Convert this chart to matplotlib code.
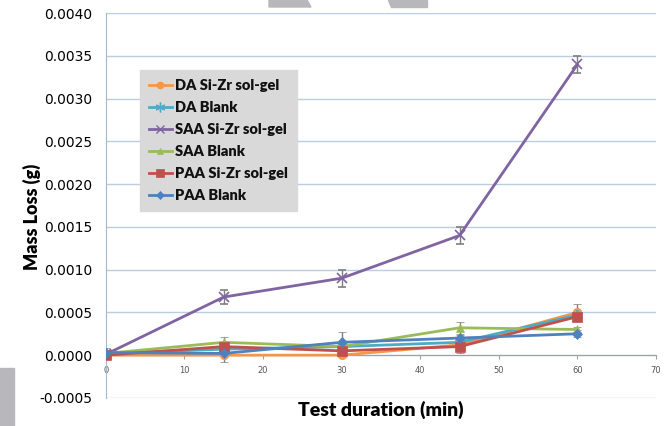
import matplotlib
matplotlib.use("Agg")
import matplotlib.pyplot as plt
from matplotlib.lines import Line2D
from matplotlib.patches import Polygon

# test duration (min)
minutes = [0, 15, 30, 45, 60]

series_names = ["DA Si-Zr sol-gel", "DA Blank", "SAA Si-Zr sol-gel",
                "SAA Blank", "PAA Si-Zr sol-gel", "PAA Blank"]

da_solgel = [0.0, 0.0, 0.0, 0.00012, 0.0005]
da_blank = [0.00002, 0.00007, 0.0001, 0.00015, 0.00047]
saa_solgel = [0.00001, 0.00068, 0.0009, 0.0014, 0.0034]
saa_blank = [0.00002, 0.00015, 0.0001, 0.00032, 0.0003]
paa_solgel = [0.0, 0.0001, 0.00005, 0.0001, 0.00045]
paa_blank = [0.00003, 0.00002, 0.00015, 0.0002, 0.00025]

da_solgel_err = [0.00003, 0.00008, 0.00002, 0.00003, 0.0001]
da_blank_err = [0.00003, 0.00003, 0.00003, 0.00005, 0.00004]
saa_solgel_err = [0.00003, 0.00008, 0.0001, 0.0001, 0.0001]
saa_blank_err = [0.00003, 0.00006, 0.00003, 0.00007, 0.00003]
paa_solgel_err = [0.00005, 0.00004, 0.00003, 0.00007, 0.00005]
paa_blank_err = [0.00005, 0.00003, 0.00012, 0.00004, 0.00004]

values = [da_solgel, da_blank, saa_solgel, saa_blank, paa_solgel, paa_blank]
errors = [da_solgel_err, da_blank_err, saa_solgel_err, saa_blank_err,
          paa_solgel_err, paa_blank_err]
colors = ["#F79646", "#4BACC6", "#8064A2", "#9BBB59", "#C0504D", "#4F81BD"]
markers = ["o", (6, 2, 0), "x", "^", "s", "D"]
msizes = [6, 8, 7, 6, 7, 5]

yticks = [-0.0005, 0.0, 0.0005, 0.0010, 0.0015, 0.0020, 0.0025,
          0.0030, 0.0035, 0.0040]
xticks = [0, 10, 20, 30, 40, 50, 60, 70]

fig = plt.figure(figsize=(6.66, 4.26), dpi=100)
ax = fig.add_axes([0.159, 0.066, 0.826, 0.903])

handles = []
for i in range(len(values)):
    thin = markers[i] in ("x",) or isinstance(markers[i], tuple)
    ax.errorbar(minutes, values[i], yerr=errors[i], color=colors[i],
                ecolor="#7f7f7f", elinewidth=1, capsize=3, capthick=1,
                marker=markers[i], markersize=msizes[i], linewidth=2,
                markeredgewidth=1.2 if thin else 0.5, zorder=3)
    handles.append(Line2D([], [], color=colors[i], marker=markers[i],
                          markersize=msizes[i] - 1, linewidth=2,
                          markeredgewidth=1.0 if thin else 0.5,
                          label=series_names[i]))

ax.set_xlim(0, 70)
ax.set_ylim(-0.0005, 0.0040)
ax.set_yticks(yticks)
ax.set_yticklabels([f"{v:.4f}" for v in yticks])
ax.set_xticks(xticks)
ax.set_xticklabels([str(v) for v in xticks])

ax.grid(axis="y", color="#b9cde5", linewidth=1)
ax.grid(axis="x", visible=False)
ax.set_axisbelow(True)

ax.spines["top"].set_visible(False)
ax.spines["right"].set_visible(False)
ax.spines["bottom"].set_position(("data", 0))
ax.spines["bottom"].set_color("#a0a0a0")
ax.spines["left"].set_color("#a6b8cc")
ax.tick_params(axis="y", length=0, pad=10, labelsize=10)
ax.tick_params(axis="x", length=3, color="#a0a0a0", pad=5, labelsize=6,
               labelcolor="#555555")

ax.set_ylabel("Mass Loss (g)", fontsize=13, fontweight="heavy",
              family="Lato")
ax.yaxis.set_label_coords(-0.1345, 0.47)
ax.yaxis.label.set_va("center")
ax.set_xlabel("Test duration (min)", fontsize=14, fontweight="heavy",
              family="Lato")
ax.xaxis.set_label_coords(0.5, -0.032)
ax.xaxis.label.set_va("center")

leg = ax.legend(handles=handles, loc="upper left",
                bbox_to_anchor=(0.062, 0.852), borderaxespad=0,
                frameon=True, fancybox=False, edgecolor="#d9d9d9",
                facecolor="#d9d9d9", framealpha=1,
                prop={"weight": "heavy", "size": 10.5, "family": "Lato"},
                handlelength=1.6, handletextpad=0.2, labelspacing=0.62,
                borderpad=0.6)
for t in leg.get_texts():
    t.set_color("#111111")

# grey watermark shapes from the source image
wm = "#b8b8bc"
fig.patches.append(Polygon([(269, 426), (307, 426), (311, 419), (269, 419)],
                           closed=True, transform=None, color=wm))
fig.patches.append(Polygon([(388, 426), (427, 426), (427, 419), (391, 419)],
                           closed=True, transform=None, color=wm))
fig.patches.append(Polygon([(0, 58), (14, 58), (14, 0), (0, 0)],
                           closed=True, transform=None, color=wm))

fig.savefig("out.png", dpi=100)
